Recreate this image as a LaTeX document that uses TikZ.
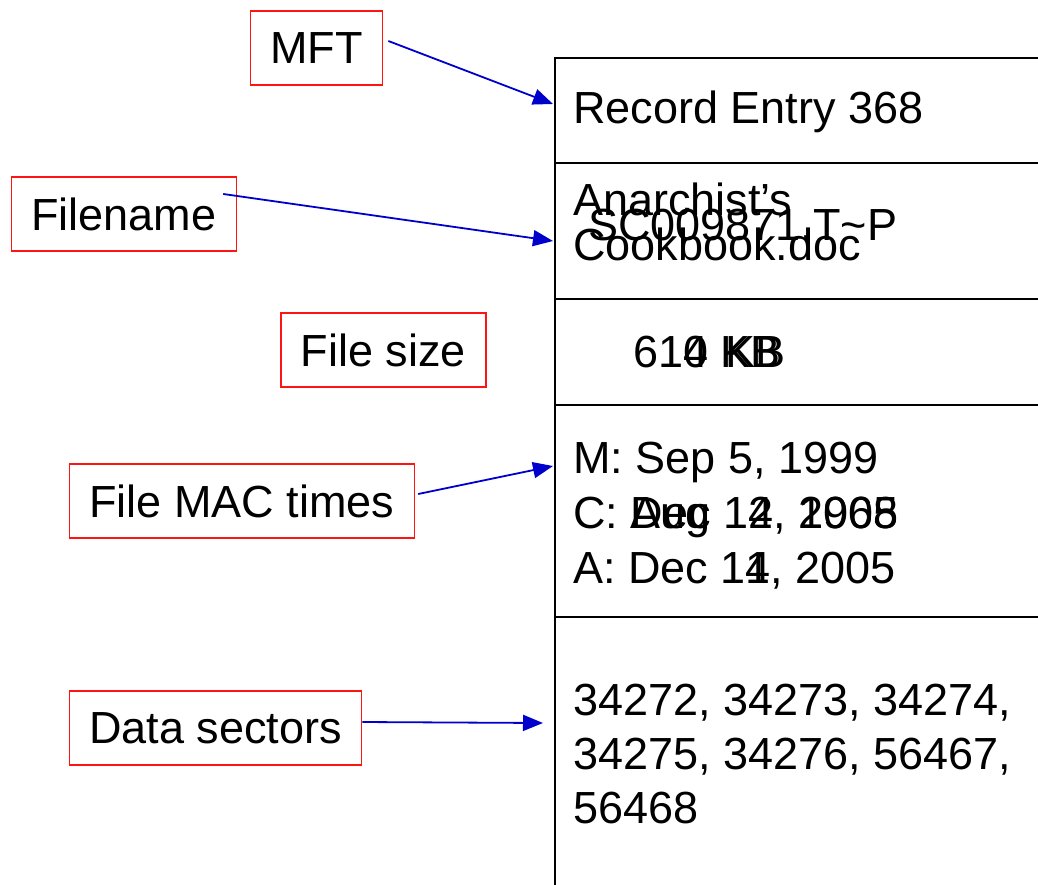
\documentclass[tikz,border=0pt]{standalone}
\usepackage{fontspec}
\setmainfont{Liberation Sans}
\usetikzlibrary{arrows.meta}
\definecolor{arrowblue}{RGB}{0,0,204}
\definecolor{boxred}{RGB}{255,20,20}
\begin{document}
\begin{tikzpicture}[x=1pt,y=-1pt,
    big/.style={font=\fontsize{45}{54}\selectfont},
    lbl/.style={big, draw=boxred, line width=1.3pt, inner xsep=20pt, minimum height=74pt},
    field/.style={draw, line width=2pt, minimum width=520pt, anchor=north west, inner sep=0pt},
    txt/.style={big, anchor=base west, inner sep=0pt},
    pointer/.style={arrowblue, line width=1.8pt, -{Triangle[length=20pt,width=16pt]}}]
    \useasboundingbox (0,0) rectangle (1038,884);
    % the record, one field under the other
    \node [field, minimum height=105pt] (record) at (554,57) {};
    \node [field, minimum height=136pt] (fname) at (554,162) {};
    \node [field, minimum height=106pt] (fsize) at (554,298) {};
    \node [field, minimum height=212pt] (times) at (554,404) {};
    \node [field, minimum height=300pt] (data) at (554,616) {};
    % what stands in the fields
    \node [txt] (rectxt) at (573,123) {Record Entry 368};
    \node [txt] (fname1) at (573,215) {Anarchist’s};
    \node [txt] (fname2) at (573,260) {Cookbook.doc};
    \node [txt] (fname3) at (588,240) {SC009871.T\textasciitilde P};
    \node [txt] (size1) at (633,367) {614 KB};
    \node [txt] (size2) at (633,367) {\phantom{61}0\hspace{5pt} KB};
    \node [txt] (mtime) at (573,473) {M: Sep 5, 1999};
    \node [txt] (ctime1) at (573,528) {C: Aug 12, 1968};
    \node [txt] (ctime2) at (573,528) {\phantom{C: }Dec\phantom{ 1}4\phantom{, }2005};
    \node [txt] (atime1) at (573,583) {A: Dec 14, 2005};
    \node [txt] (atime2) at (573,583) {\phantom{A: Dec 1}1};
    \foreach \secs [count=\i] in {{34272, 34273, 34274,},{34275, 34276, 56467,},{56468}}
        \node [txt] (sec\i) at (573,{715+54*(\i-1)}) {\secs};
    % labels on the left
    \node [lbl] (mft) at (316.5,48) {MFT};
    \node [lbl] (fnamelbl) at (124,214) {Filename};
    \node [lbl] (sizelbl) at (383.5,350) {File size};
    \node [lbl] (timeslbl) at (242,501) {File MAC times};
    \node [lbl] (datalbl) at (215.5,728) {Data sectors};
    % pointers
    \draw [pointer] ([xshift=5pt,yshift=7pt]mft.east) -- ([xshift=-1pt,yshift=6.5pt]record.west);
    \draw [pointer] ([xshift=-14pt,yshift=20pt]fnamelbl.east) -- ([xshift=-1pt,yshift=-10pt]fname.west);
    \draw [pointer] ([xshift=3pt,yshift=7pt]timeslbl.east) -- ([xshift=-1pt,yshift=45pt]times.west);
    \draw [pointer] ([yshift=6pt]datalbl.east) -- ([xshift=-11pt,yshift=44pt]data.west);
\end{tikzpicture}
\end{document}
